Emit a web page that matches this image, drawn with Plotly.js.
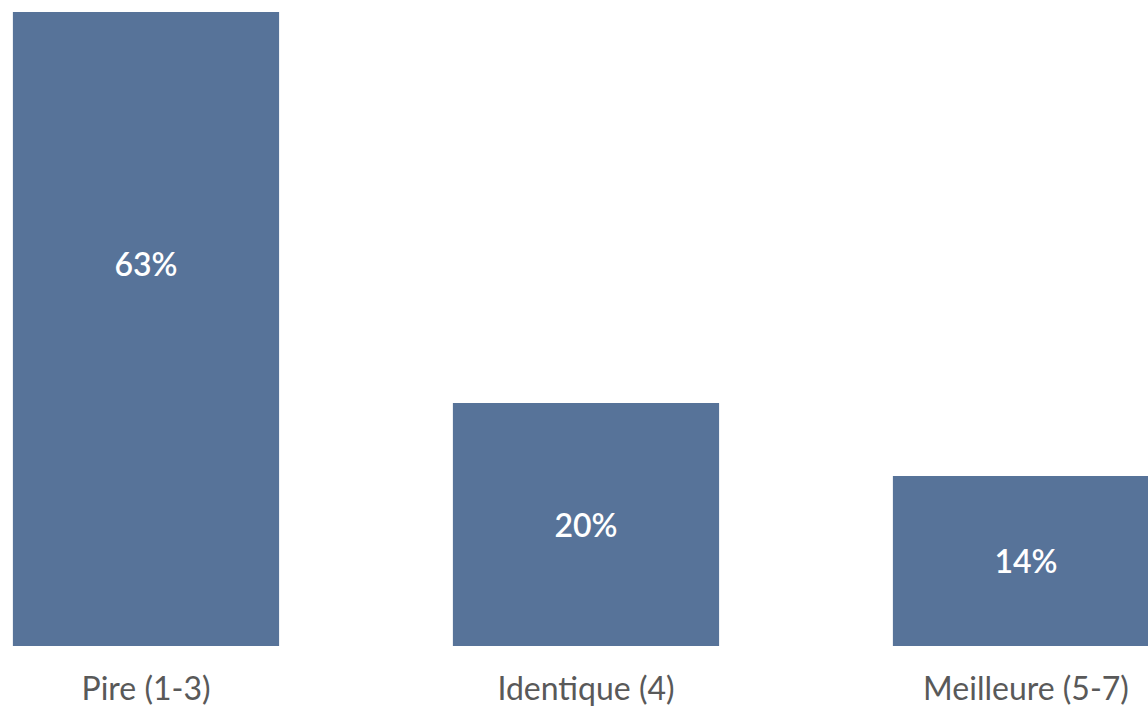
<!DOCTYPE html>
<html>
<head>
<meta charset="utf-8">
<script src="https://cdn.plot.ly/plotly-3.0.1.min.js"></script>
<style>html,body{margin:0;padding:0;background:#fff;}#chart{width:1148px;height:708px;}</style>
</head>
<body>
<div id="chart"></div>
<script>
var categories = ["Pire (1-3)", "Identique (4)", "Meilleure (5-7)"];
var values = [63, 20, 14];
var labels = ["63%", "20%", "14%"];

var trace = {
  type: "bar",
  x: categories,
  y: values,
  text: labels,
  textposition: "inside",
  insidetextanchor: "middle",
  textangle: 0,
  textfont: {family: "Lato", size: 32, color: "#ffffff", weight: 600},
  marker: {color: "#577399"},
  width: 0.605,
  hoverinfo: "none",
  cliponaxis: true
};

var layout = {
  width: 1148,
  height: 708,
  margin: {l: 0, r: 0, t: 12, b: 62, pad: 0},
  paper_bgcolor: "#ffffff",
  plot_bgcolor: "#ffffff",
  showlegend: false,
  xaxis: {
    type: "category",
    range: [-0.3318, 2.2773],
    showgrid: false, zeroline: false, showline: false,
    ticks: "",
    ticklabelstandoff: 21,
    tickfont: {family: "Lato", size: 32, color: "#595959"},
    automargin: false
  },
  yaxis: {
    range: [0, 52.18],
    showgrid: false, zeroline: false, showline: false,
    showticklabels: false, ticks: ""
  },
  uniformtext: {mode: false}
};

Plotly.newPlot("chart", [trace], layout, {displayModeBar: false, staticPlot: true});
</script>
</body>
</html>
